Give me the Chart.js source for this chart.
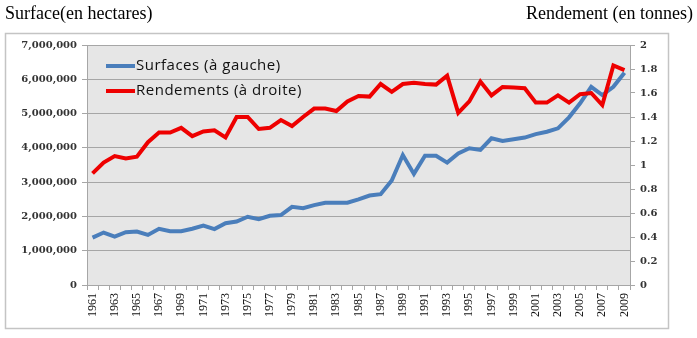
<!DOCTYPE html>
<html>
<head>
<meta charset="utf-8">
<script src="https://cdn.jsdelivr.net/npm/chart.js@4.4.1/dist/chart.umd.min.js"></script>
<style>
  html, body { margin: 0; padding: 0; background: #fff; }
  #wrap { position: relative; width: 697px; height: 338px; }
  canvas { position: absolute; left: 0; top: 0; }
  .title { position: absolute; top: 3px; font: 18px "Liberation Serif", serif; color: #000; white-space: nowrap; }
  .legend { position: absolute; left: 106px; font: 15px "Open Sans", sans-serif; letter-spacing: 0.5px; color: #111; white-space: nowrap; line-height: 16px; }
  .legend span { display: inline-block; width: 29px; height: 4px; vertical-align: middle; margin-right: 1px; }
</style>
</head>
<body>
<div id="wrap">
  <canvas id="chart" width="697" height="338"></canvas>
  <div class="title" style="left:5px">Surface(en hectares)</div>
  <div class="title" style="right:4px">Rendement (en tonnes)</div>
  <div class="legend" style="top:56px"><span style="background:#4a7ebb"></span>Surfaces (à gauche)</div>
  <div class="legend" style="top:81px"><span style="background:#ee0000"></span>Rendements (à droite)</div>
</div>
<script>
const years = [
  1961, 1962, 1963, 1964, 1965, 1966, 1967, 1968, 1969, 1970,
  1971, 1972, 1973, 1974, 1975, 1976, 1977, 1978, 1979, 1980,
  1981, 1982, 1983, 1984, 1985, 1986, 1987, 1988, 1989, 1990,
  1991, 1992, 1993, 1994, 1995, 1996, 1997, 1998, 1999, 2000,
  2001, 2002, 2003, 2004, 2005, 2006, 2007, 2008, 2009
];

// hectares, left axis
const surfaces = [
  1380000, 1530000, 1410000, 1540000, 1560000, 1460000, 1640000, 1570000, 1570000, 1640000,
  1730000, 1630000, 1800000, 1850000, 1990000, 1920000, 2020000, 2040000, 2280000, 2240000,
  2330000, 2400000, 2400000, 2400000, 2500000, 2610000, 2650000, 3050000, 3790000, 3240000,
  3770000, 3770000, 3570000, 3840000, 3990000, 3940000, 4280000, 4200000, 4250000, 4300000,
  4400000, 4470000, 4570000, 4890000, 5300000, 5780000, 5540000, 5780000, 6190000
];

// tonnes per hectare, right axis
const rendements = [
  0.93, 1.02, 1.075, 1.055, 1.07, 1.19, 1.27, 1.27, 1.31, 1.24,
  1.28, 1.29, 1.23, 1.40, 1.40, 1.30, 1.31, 1.375, 1.325, 1.40,
  1.47, 1.47, 1.45, 1.53, 1.575, 1.57, 1.675, 1.61, 1.675, 1.685,
  1.675, 1.67, 1.745, 1.435, 1.53, 1.695, 1.58, 1.65, 1.645, 1.64,
  1.52, 1.52, 1.58, 1.52, 1.59, 1.60, 1.50, 1.83, 1.79
];

const leftTicks = { min: 0, max: 7000000, step: 1000000 };
const rightTicks = { min: 0, max: 2, step: 0.2 };

const GRID = '#a6a6a6';
const TICK_FONT = { family: '"DejaVu Serif", serif', size: 10, weight: 'bold' };

const frame = {
  id: 'frame',
  beforeDraw(chart) {
    const { ctx, chartArea: a } = chart;
    ctx.save();
    ctx.fillStyle = '#fff';
    ctx.fillRect(0, 0, chart.width, chart.height);
    ctx.strokeStyle = '#c4c4c4';
    ctx.lineWidth = 1.5;
    ctx.strokeRect(5.5, 33.5, 663, 295);
    ctx.fillStyle = '#e6e6e6';
    ctx.fillRect(a.left, a.top, a.right - a.left, a.bottom - a.top);
    ctx.restore();
  }
};

new Chart(document.getElementById('chart'), {
  type: 'line',
  data: {
    labels: years,
    datasets: [
      {
        label: 'Surfaces (à gauche)',
        data: surfaces,
        yAxisID: 'y',
        borderColor: '#4a7ebb',
        borderWidth: 4,
        pointRadius: 0,
        tension: 0,
        order: 2
      },
      {
        label: 'Rendements (à droite)',
        data: rendements,
        yAxisID: 'y1',
        borderColor: '#ee0000',
        borderWidth: 4,
        pointRadius: 0,
        tension: 0,
        order: 1
      }
    ]
  },
  options: {
    responsive: false,
    animation: false,
    layout: { padding: { left: 5, right: 29, top: 45, bottom: 10 } },
    plugins: {
      legend: { display: false },
      tooltip: { enabled: false }
    },
    scales: {
      x: {
        offset: true,
        grid: { offset: true, drawOnChartArea: false, tickLength: 5, color: GRID },
        border: { color: GRID },
        ticks: {
          autoSkip: false,
          maxRotation: 90,
          minRotation: 90,
          padding: 3,
          color: '#111',
          font: { family: '"Liberation Serif", serif', size: 12 },
          callback: (v, i) => (i % 2 === 0 ? String(years[i]) : '')
        },
        afterFit: s => { s.height = 43; }
      },
      y: {
        position: 'left',
        min: leftTicks.min,
        max: leftTicks.max,
        grid: { color: GRID, tickLength: 5 },
        border: { color: GRID },
        ticks: {
          stepSize: leftTicks.step,
          padding: 5,
          color: '#333',
          font: TICK_FONT,
          callback: v => v.toLocaleString('en-US')
        },
        afterFit: s => { s.width = 82; }
      },
      y1: {
        position: 'right',
        min: rightTicks.min,
        max: rightTicks.max,
        grid: { drawOnChartArea: false, color: GRID, tickLength: 5 },
        border: { color: GRID },
        ticks: {
          stepSize: rightTicks.step,
          padding: 5,
          color: '#333',
          font: TICK_FONT,
          callback: v => String(Number(v.toFixed(1)))
        },
        afterFit: s => { s.width = 38; }
      }
    }
  },
  plugins: [frame]
});
</script>
</body>
</html>
